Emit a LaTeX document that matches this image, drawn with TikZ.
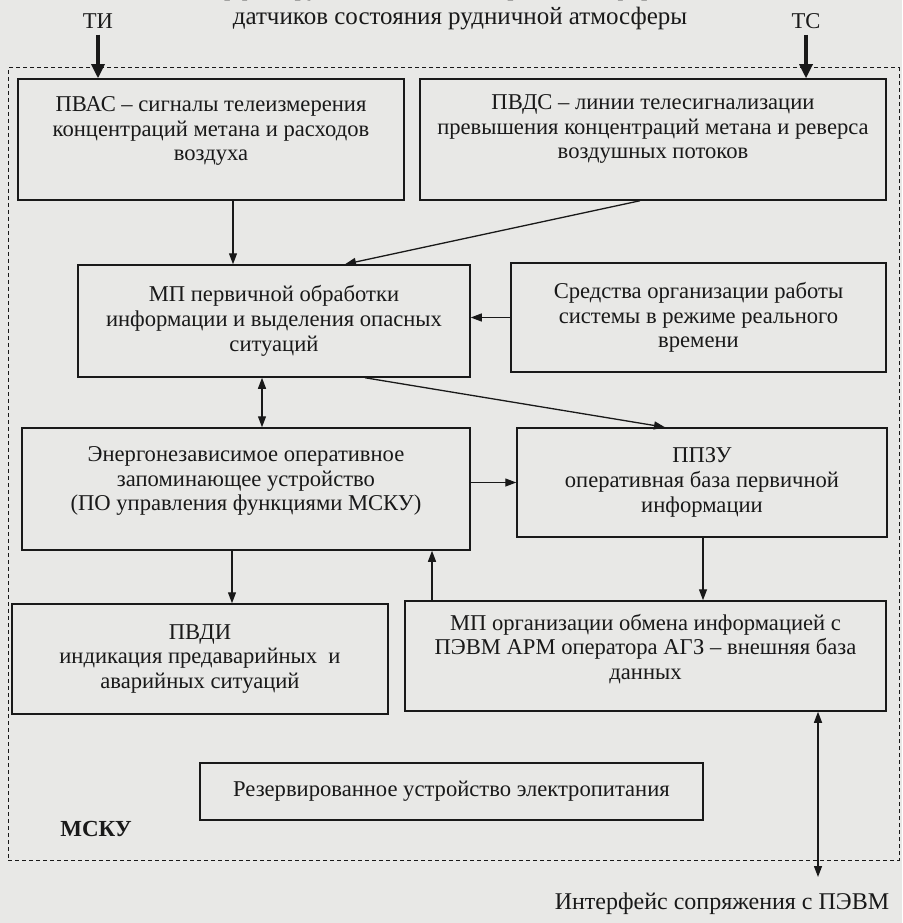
\documentclass[tikz,border=0pt]{standalone}
\usepackage{fontspec}
\setmainfont{Liberation Serif}
\usetikzlibrary{arrows.meta,calc}
\definecolor{paper}{RGB}{232,232,230}
\definecolor{ink}{RGB}{25,25,25}
\newcommand\boxfont{\fontsize{22.6}{24.8}\selectfont}
\begin{document}
\begin{tikzpicture}[x=1pt,y=-1pt,
  box/.style={draw=ink, line width=1.5pt, align=center, font=\boxfont, inner sep=0pt, text=ink},
  txt/.style={align=center, font=\boxfont, inner sep=0pt, text=ink},
  lbl/.style={font=\boxfont, text=ink, inner sep=0pt},
  arr/.style={draw=ink, line width=1.3pt, -{Triangle[length=11pt,width=8pt]}},
  dbl/.style={draw=ink, line width=1.3pt, {Triangle[length=11pt,width=8pt]}-{Triangle[length=11pt,width=8pt]}},
  bigarr/.style={draw=ink, line width=3.2pt, -{Triangle[length=14pt,width=13pt]}},
  frame/.style={draw=ink, line width=1pt, dash pattern=on 4pt off 3pt}]
\useasboundingbox (0,0) rectangle (902,923);
\fill[paper] (0,0) rectangle (902,923);
\begin{scope}
\clip (0,0) rectangle (902,923);
\node[lbl, font=\fontsize{25}{27}\selectfont] (top1) at (460,-10) {Интерфейс рудничных сетей передачи информации от};
\end{scope}
\node[lbl, font=\fontsize{25}{27}\selectfont] (top2) at (460,19) {датчиков состояния рудничной атмосферы};
\node[lbl] (ti) at (98,21) {ТИ};
\node[lbl] (tc) at (806,21) {ТС};

% outer frame
\node[frame, minimum width=891pt, minimum height=792pt, inner sep=0pt] (mcku) at (453.5,464) {};

\node[box, minimum width=386pt, minimum height=121pt] (b1) at (211,139.5) {};
\node[txt] (t1) at (211,131) {ПВАС – сигналы телеизмерения\\концентраций метана и расходов\\воздуха};
\node[box, minimum width=466pt, minimum height=121pt] (b2) at (653,139.5) {};
\node[txt] (t2) at (653,129) {ПВДС – линии телесигнализации\\превышения концентраций метана и реверса\\воздушных потоков};
\node[box, minimum width=392pt, minimum height=112pt] (b3) at (274,321)
  {МП первичной обработки\\информации и выделения опасных\\ситуаций};
\node[box, minimum width=375pt, minimum height=109pt] (b4) at (698.5,317.5)
  {Средства организации работы\\системы в режиме реального\\времени};
\node[box, minimum width=448pt, minimum height=122pt] (b5) at (246,489) {};
\node[txt] (t5) at (246,481) {Энергонезависимое оперативное\\запоминающее устройство\\(ПО управления функциями МСКУ)};
\node[box, minimum width=370pt, minimum height=109pt] (b6) at (702,482.5)
  {ППЗУ\\оперативная база первичной\\информации};
\node[box, minimum width=376pt, minimum height=110pt] (b7) at (200,659)
  {ПВДИ\\индикация предаварийных \ и\\аварийных ситуаций};
\node[box, minimum width=481pt, minimum height=110pt] (b8) at (645.5,656) {};
\node[txt] (t8) at (645.5,649) {МП организации обмена информацией с\\ПЭВМ АРМ оператора АГЗ – внешняя база\\данных};
\node[box, minimum width=503pt, minimum height=57pt] (b9) at (451.5,791.5)
  {Резервированное устройство электропитания};

\node[lbl, font=\fontsize{23}{25}\selectfont\bfseries] (lab) at (96,829) {МСКУ};
\node[lbl, font=\fontsize{24}{26}\selectfont] (pc) at (722,904) {Интерфейс сопряжения с ПЭВМ};

\coordinate (x233) at (233,0);
\coordinate (x262) at (262,0);
\coordinate (x232) at (232,0);
\coordinate (x432) at (432,0);
\coordinate (x703) at (703,0);
\coordinate (x818) at (818,0);
\coordinate (pcend) at (818,877);

\draw[bigarr] ([yshift=-6pt]ti.south) -- (b1.north -| ti);
\draw[bigarr] ([yshift=-6pt]tc.south) -- (b2.north -| tc);

\draw[arr] (b1.south -| x233) -- (b3.north -| x233);
\draw[arr] ([xshift=-13pt]b2.south) -- ([xshift=71pt]b3.north);
\draw[arr] (b4.west) -- (b4.west -| b3.east);
\draw[dbl] (b3.south -| x262) -- (b5.north -| x262);
\draw[arr] ([xshift=91pt]b3.south) -- ([xshift=-37pt]b6.north);
\draw[arr] (b6.west -| b5.east) -- (b6.west);
\draw[arr] (b5.south -| x232) -- (b7.north -| x232);
\draw[arr] (b8.north -| x432) -- (b5.south -| x432);
\draw[arr] (b6.south -| x703) -- (b8.north -| x703);
\draw[dbl] (b8.south -| x818) -- (pcend);
\end{tikzpicture}
\end{document}
